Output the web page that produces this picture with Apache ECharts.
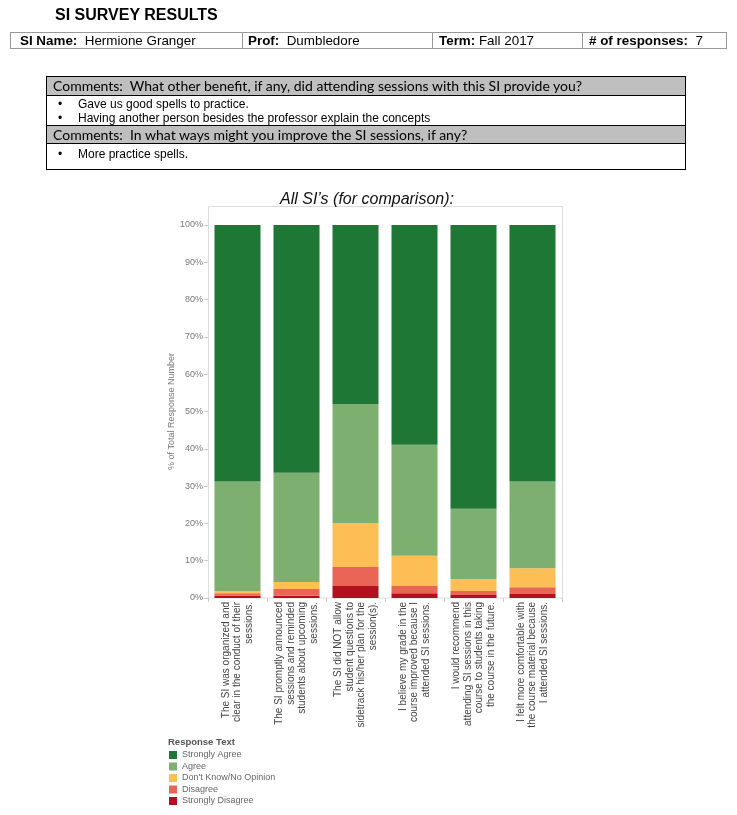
<!DOCTYPE html>
<html><head><meta charset="utf-8">
<script src="https://cdn.jsdelivr.net/npm/echarts@6/dist/echarts.min.js"></script>
<style>
html,body{margin:0;padding:0;background:#fff;width:737px;height:815px;overflow:hidden;}
#chart{position:absolute;left:0;top:0;width:737px;height:815px;}
.ar{font-family:"Liberation Sans",Arial,sans-serif;}
#ttl{position:absolute;left:55px;top:6px;font-size:16px;font-weight:bold;color:#000;}
.cell{position:absolute;top:32px;height:17px;border:1px solid #999;box-sizing:border-box;font-size:13.4px;line-height:15px;color:#000;padding-left:9px;white-space:pre;}
.cell b{font-weight:bold;}
#cbox{position:absolute;left:46px;top:76px;width:640px;height:94px;border:1px solid #000;box-sizing:border-box;}
.hdr{position:absolute;left:0;width:638px;background:#bfbfbf;font-family:Lato,"Open Sans",sans-serif;font-size:14px;color:#000;padding-left:6px;box-sizing:border-box;white-space:pre;}
.bl{position:absolute;font-family:"Liberation Sans",Arial,sans-serif;font-size:12px;color:#000;white-space:pre;}
.bl span{position:absolute;left:-20px;}
</style></head>
<body>
<div id="chart"></div>
<div id="ttl" class="ar">SI SURVEY RESULTS</div>
<div class="cell ar" style="left:10px;width:233px;"><b>SI Name:</b>  Hermione Granger</div>
<div class="cell ar" style="left:242px;width:191px;padding-left:5px;"><b>Prof:</b>  Dumbledore</div>
<div class="cell ar" style="left:432px;width:151px;padding-left:6px;"><b>Term:</b> Fall 2017</div>
<div class="cell ar" style="left:582px;width:145px;padding-left:6px;"><b># of responses:</b>  7</div>
<div id="cbox">
  <div class="hdr" style="top:0;height:19px;line-height:18px;border-bottom:1px solid #000;">Comments:  What other benefit, if any, did attending sessions with this SI provide you?</div>
  <div class="bl" style="left:31px;top:20px;"><span>•</span>Gave us good spells to practice.</div>
  <div class="bl" style="left:31px;top:34px;"><span>•</span>Having another person besides the professor explain the concepts</div>
  <div class="hdr" style="top:48px;height:19px;line-height:17px;border-top:1px solid #000;border-bottom:1px solid #000;">Comments:  In what ways might you improve the SI sessions, if any?</div>
  <div class="bl" style="left:31px;top:70px;"><span>•</span>More practice spells.</div>
</div>
<script>
const categories = [
  "The SI was organized and\nclear in the conduct of their\nsessions.",
  "The SI promptly announced\nsessions and reminded\nstudents about upcoming\nsessions.",
  "The SI did NOT allow\nstudent questions to\nsidetrack his/her plan for the\nsession(s).",
  "I believe my grade in the\ncourse improved because I\nattended SI sessions.",
  "I would recommend\nattending SI sessions in this\ncourse to students taking\nthe course in the future.",
  "I felt more comfortable with\nthe course material because\nI attended SI sessions."
];
const seriesNames = ["Strongly Disagree", "Disagree", "Don't Know/No Opinion", "Agree", "Strongly Agree"];
const stronglyDisagree = [0.6, 0.6, 3.2, 1.3, 0.8, 1.1];
const disagree = [0.7, 1.8, 5.1, 1.9, 1.1, 1.8];
const dontKnow = [0.6, 1.9, 11.8, 8.1, 3.2, 5.1];
const agree = [29.3, 29.3, 31.9, 29.8, 18.8, 23.2];
const stronglyAgree = [68.8, 66.4, 48.0, 58.9, 76.1, 68.8];
const colors = ["#b3101f", "#e96556", "#fdbe55", "#7daf71", "#1e7735"];

const values = [stronglyDisagree, disagree, dontKnow, agree, stronglyAgree];
const chart = echarts.init(document.getElementById('chart'), null, {renderer: 'canvas'});
const F = '"Liberation Sans", Arial, sans-serif';
chart.setOption({
  animation: false,
  textStyle: {fontFamily: F},
  title: {
    text: "All SI’s (for comparison):", left: 275, top: 187,
    textStyle: {fontSize: 16, fontStyle: 'italic', fontWeight: 'normal', color: '#111', fontFamily: F}
  },
  graphic: [
    {type: 'rect', shape: {x: 208.5, y: 206.5, width: 354, height: 391.5}, style: {fill: 'none', stroke: '#dcdcdc', lineWidth: 1}, silent: true},
    {type: 'text', left: 168, top: 737, style: {text: 'Response Text', fontSize: 9.5, fontWeight: 'bold', fill: '#555', fontFamily: F}}
  ],
  legend: {
    data: seriesNames.slice().reverse(),
    orient: 'vertical', left: 169, top: 750, padding: 0,
    icon: 'rect', itemWidth: 8, itemHeight: 8, itemGap: 1.5,
    textStyle: {fontSize: 9, color: '#666', lineHeight: 10, fontFamily: F}
  },
  grid: {left: 208, right: 175, top: 225, bottom: 217, containLabel: false},
  xAxis: {
    type: 'category', data: categories,
    axisLine: {show: false},
    axisTick: {show: true, length: 4, lineStyle: {color: '#ccc'}},
    axisLabel: {rotate: 90, margin: 4, fontSize: 10, color: '#444', lineHeight: 11.5, interval: 0, fontFamily: F}
  },
  yAxis: {
    type: 'value', min: 0, max: 100, interval: 10,
    name: '% of Total Response Number', nameLocation: 'middle', nameGap: 28, nameRotate: 90,
    nameTextStyle: {fontSize: 9, color: '#777', fontFamily: F},
    axisLine: {show: false},
    axisTick: {show: true, length: 4, lineStyle: {color: '#ccc'}},
    splitLine: {show: false},
    axisLabel: {formatter: '{value}%', fontSize: 9, color: '#777', margin: 5, fontFamily: F}
  },
  series: seriesNames.map((n, i) => ({
    name: n, type: 'bar', stack: 'total', data: values[i],
    barCategoryGap: '22%', itemStyle: {color: colors[i]}
  }))
});
</script>
</body></html>
